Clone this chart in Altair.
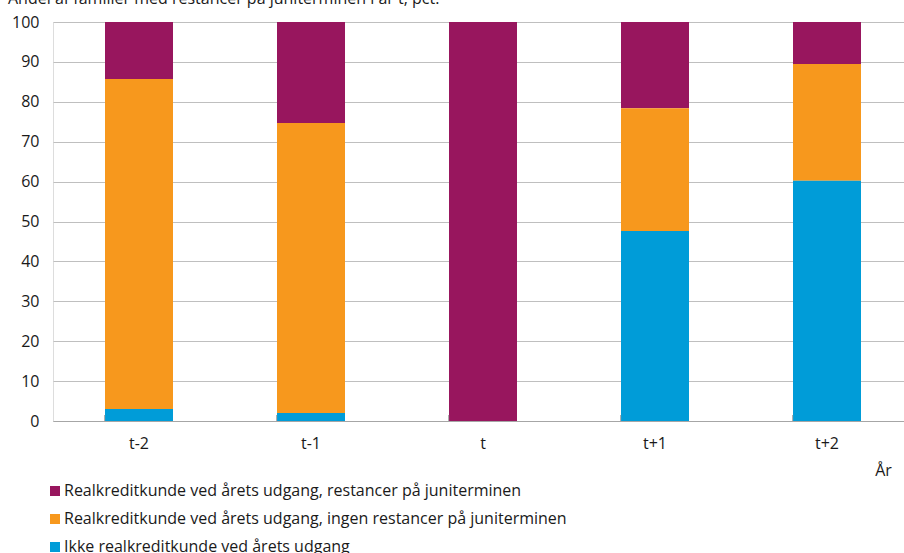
import altair as alt
import pandas as pd

# Share of families by mortgage status, years relative to arrears year t
years = ["t-2", "t-1", "t", "t+1", "t+2"]
series = [
    "Realkreditkunde ved årets udgang, restancer på juniterminen",
    "Realkreditkunde ved årets udgang, ingen restancer på juniterminen",
    "Ikke realkreditkunde ved årets udgang",
]
colors = ["#98165E", "#F7981D", "#009CD8"]

arrears = [14.3, 25.3, 100.0, 21.6, 10.5]
no_arrears = [82.7, 72.7, 0.0, 30.8, 29.3]
not_customer = [3.0, 2.0, 0.0, 47.6, 60.2]

title_text = "Andel af familier med restancer på juniterminen i år t, pct."

rows = []
for i, yr in enumerate(years):
    for s, vals, order in zip(series, [arrears, no_arrears, not_customer], [2, 1, 0]):
        rows.append({"year": yr, "series": s, "value": vals[i], "ord": order})
df = pd.DataFrame(rows)

FONT = "Open Sans"
FS = 16
TXT = "#1A1A1A"

x_enc = alt.X(
    "year:N",
    sort=years,
    scale=alt.Scale(range=[0, 860], paddingInner=0.6, paddingOuter=0.3),
    axis=alt.Axis(
        title="År",
        titleX=830,
        titleY=41,
        titleAlign="center",
        titleFontWeight="normal",
        titleFontSize=FS,
        titleFont=FONT,
        titleColor=TXT,
        labelAngle=0,
        labelFontSize=FS,
        labelFont=FONT,
        labelColor=TXT,
        labelPadding=14,
        ticks=False,
        domainColor="#A6A6A6",
        domainWidth=1,
        grid=False,
    ),
)

bars = alt.Chart(df).mark_bar(size=68).encode(
    x=x_enc,
    y=alt.Y(
        "value:Q",
        stack="zero",
        scale=alt.Scale(domain=[0, 100], nice=False),
        axis=alt.Axis(
            title=None,
            values=list(range(0, 101, 10)),
            labelFontSize=FS,
            labelFont=FONT,
            labelColor=TXT,
            labelPadding=14,
            ticks=False,
            domain=False,
            gridColor="#BFBFBF",
            gridWidth=1,
        ),
    ),
    color=alt.Color(
        "series:N",
        scale=alt.Scale(domain=series, range=colors),
        legend=alt.Legend(
            title=None,
            orient="none",
            legendX=-6,
            legendY=461,
            direction="vertical",
            symbolType="square",
            symbolSize=100,
            symbolStrokeWidth=0,
            labelFontSize=FS,
            labelFont=FONT,
            labelColor=TXT,
            labelOffset=1,
            rowPadding=12,
            labelLimit=800,
            padding=0,
        ),
    ),
    order=alt.Order("ord:Q", sort="ascending"),
)

# Small separators at the band edges, pointing up from the baseline
tick_df = pd.DataFrame({"year": years})
ticks = alt.Chart(tick_df).mark_rule(color="#A6A6A6", strokeWidth=1).encode(
    x=alt.X("year:N", sort=years, bandPosition=0),
    y=alt.value(393),
    y2=alt.value(399),
)

title = alt.Chart(pd.DataFrame({"t": [title_text]})).mark_text(
    align="left", baseline="alphabetic", fontSize=FS, font=FONT, color=TXT
).encode(x=alt.value(-45), y=alt.value(-18), text="t:N")

chart = (
    alt.layer(bars, ticks, title)
    .properties(
        width=851,
        height=399,
        autosize=alt.AutoSizeParams(type="none"),
        padding={"left": 53, "top": 22, "right": 0, "bottom": 132},
    )
    .configure_view(stroke=None)
    .configure(background="white")
)

chart.save("out.html", embed_options={"renderer": "svg", "actions": False})
